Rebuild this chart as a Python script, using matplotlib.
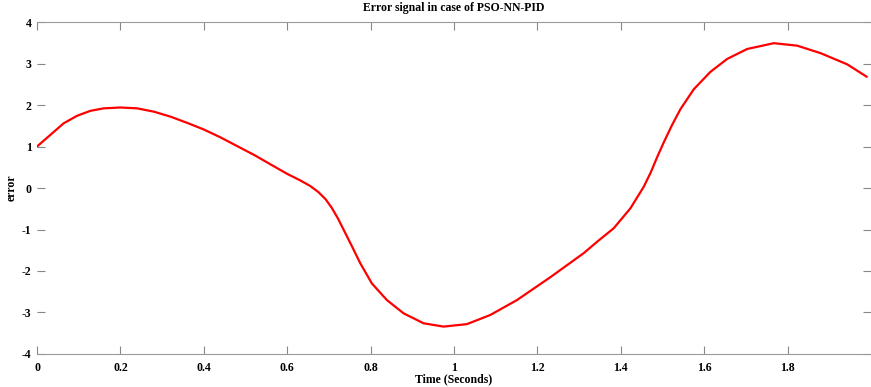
import numpy as np
import matplotlib
matplotlib.use("Agg")
import matplotlib.pyplot as plt

# values
time_s = [0.0, 0.032, 0.064, 0.096, 0.128, 0.160, 0.200, 0.240, 0.280,
          0.320, 0.360, 0.400, 0.440, 0.480, 0.520, 0.560, 0.600, 0.630, 0.655,
          0.675, 0.692, 0.707, 0.722, 0.737, 0.755, 0.775, 0.803, 0.839, 0.879,
          0.927, 0.975, 1.031, 1.087, 1.151, 1.231, 1.311, 1.345, 1.383, 1.423,
          1.455, 1.472, 1.487, 1.503, 1.522, 1.543, 1.575, 1.615, 1.655, 1.703,
          1.767, 1.823, 1.879, 1.943, 1.99]
error = [1.0, 1.28, 1.56, 1.74, 1.86, 1.92, 1.94, 1.92, 1.84,
         1.72, 1.57, 1.41, 1.22, 1.01, 0.80, 0.57, 0.34, 0.19, 0.05,
         -0.10, -0.27, -0.48, -0.74, -1.04, -1.40, -1.81, -2.30, -2.70, -3.02,
         -3.26, -3.34, -3.28, -3.06, -2.70, -2.15, -1.57, -1.28, -0.97, -0.49,
         0.03, 0.38, 0.74, 1.10, 1.50, 1.90, 2.38, 2.80, 3.11, 3.35,
         3.49, 3.43, 3.25, 2.98, 2.68]
x_ticks = [0, 0.2, 0.4, 0.6, 0.8, 1, 1.2, 1.4, 1.6, 1.8]
x_labels = ["0", "0.2", "0.4", "0.6", "0.8", "1", "1.2", "1.4", "1.6", "1.8"]
y_ticks = [-4, -3, -2, -1, 0, 1, 2, 3, 4]

plt.rcParams['font.family'] = ['Liberation Serif', 'DejaVu Serif']
plt.rcParams['font.weight'] = 'bold'
plt.rcParams['axes.unicode_minus'] = False

fig = plt.figure(figsize=(8.71, 3.87), dpi=100)
ax = fig.add_axes([0.0425, 0.0853, 0.9575, 0.8578])

ax.plot(time_s, error, color="#ff0000", lw=1.6,
        solid_joinstyle='round', solid_capstyle='round')

ax.set_xlim(0, 2)
ax.set_ylim(-4, 4)
ax.set_xticks(x_ticks)
ax.set_xticklabels(x_labels)
ax.set_yticks(y_ticks)
ax.tick_params(direction='in', length=6, width=0.8, color='#888888',
               top=True, right=True, labelsize=8.5)
ax.tick_params(axis='x', pad=6)
ax.tick_params(axis='y', pad=4)
for lab in ax.get_xticklabels() + ax.get_yticklabels():
    lab.set_fontweight('bold')

for side in ['top', 'bottom']:
    ax.spines[side].set_color('#9a9a9a')
    ax.spines[side].set_linewidth(0.8)
ax.spines['left'].set_visible(False)
ax.spines['right'].set_visible(False)

ax.set_title("Error signal in case of PSO-NN-PID", fontsize=8.5,
             fontweight='bold', pad=8)
ax.set_xlabel("Time (Seconds)", fontsize=8.5, fontweight='bold')
ax.xaxis.set_label_coords(0.5, -0.058)
ax.set_ylabel("error", fontsize=8.5, fontweight='bold')
ax.yaxis.set_label_coords(-0.0228, 0.5)

fig.savefig("out.png", dpi=100)
